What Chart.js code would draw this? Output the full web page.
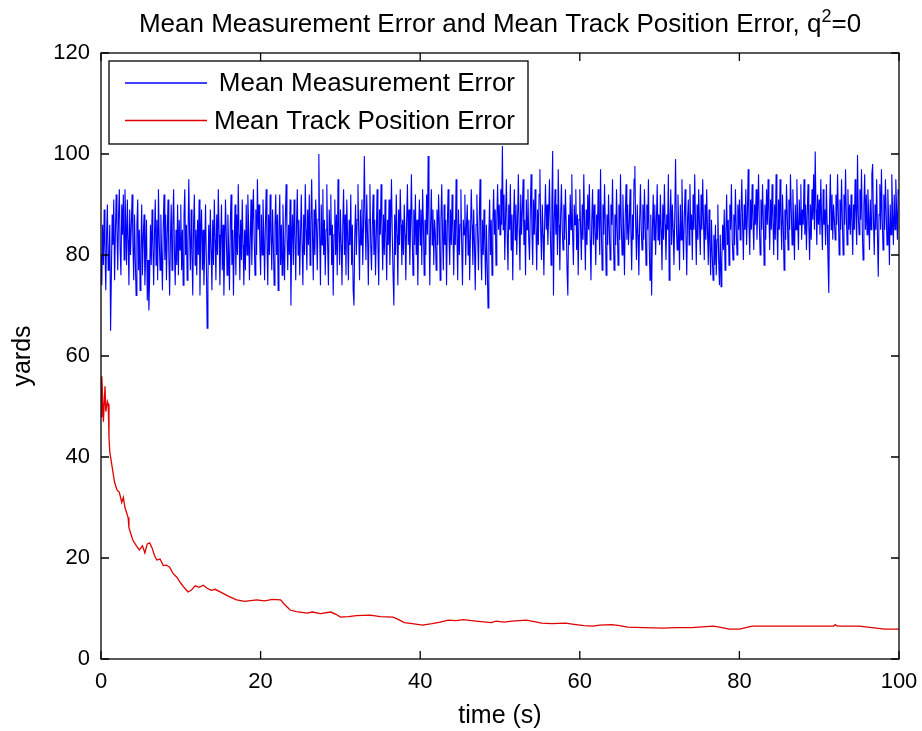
<!DOCTYPE html>
<html><head><meta charset="utf-8">
<script src="https://cdn.jsdelivr.net/npm/chart.js@4.4.1/dist/chart.umd.min.js"></script>
<style>html,body{margin:0;padding:0;background:#fff;}#wrap{width:922px;height:731px;}</style>
</head><body><div id="wrap"><canvas id="c" width="922" height="731"></canvas></div>
<script>
const titleMain = "Mean Measurement Error and Mean Track Position Error, q";
const titleSup = "2";
const titleTail = "=0";
const xLabel = "time (s)";
const yLabel = "yards";
const seriesNames = ["Mean Measurement Error", "Mean Track Position Error"];
const seriesColors = ["#0000ff", "#e00000"];
const xTicks = [0, 20, 40, 60, 80, 100];
const yTicks = [0, 20, 40, 60, 80, 100, 120];
const blueStep = 0.1;
const measurementError = [
80,74,86,78,89,81,73,84,90,77,79,86,65,76,88,82,91,75,84,92,
85,77,88,93,81,76,90,84,92,79,93,87,78,91,83,74,89,80,86,92,
82,75,88,79,72,86,91,77,85,73,81,90,76,84,88,74,80,87,71,79,
69,76,86,78,89,82,74,84,91,78,87,75,93,83,77,88,80,73,86,92,
79,88,75,84,91,80,72,83,90,77,86,93,81,74,85,78,90,76,87,81,
90,77,85,74,88,93,80,86,75,83,95,84,77,89,80,72,86,92,78,85,
76,87,80,91,72,84,89,77,85,74,81,90,79,65.5,75,86,78,89,81,73,
87,78,91,83,75,88,80,93,84,74,83,90,77,86,72,81,91,84,76,88,
81,73,86,92,78,85,72,83,90,76,88,80,94,84,75,87,79,91,82,74,
85,77,90,80,92,86,75,83,91,78,87,93,83,76,89,80,95,85,90,82,
76,88,80,91,84,75,86,93,82,74,88,80,92,84,77,89,82,74,86,92,
80,88,73,85,92,78,86,76,90,82,75,87,94,84,77,86,80,91,70,83,
88,78,91,84,75,86,93,80,87,76,84,92,82,74,88,80,94,85,77,89,
82,92,78,86,95,84,75,89,80,91,86,77,87,100,84,74,90,82,93,80,
87,76,85,94,82,74,89,84,92,78,86,72,84,91,80,88,76,95,85,78,
89,82,74,86,93,80,88,76,91,84,75,87,82,92,78,86,73,70,84,90,
80,87,94,84,75,89,82,91,78,86,99.6,87,79,92,84,74,87,94,82,77,
86,92,80,87,76,84,93,82,74,89,84,94,86,77,88,80,91,84,75,87,
82,91,78,86,95,84,76,70,88,80,92,84,74,89,82,93,86,78,87,80,
90,84,75,87,94,82,89,78,86,96,84,76,89,82,92,80,87,74,85,91,
82,89,78,93,86,76,87,80,92,84,99.6,87,74,86,93,82,89,78,87,84,
77,89,82,92,86,75,87,94,84,77,90,82,87,74,86,93,84,78,89,82,
92,85,76,87,82,95,84,75,89,80,86,93,82,74,87,84,92,78,86,90,
80,87,75,84,93,86,78,89,82,73,86,92,84,77,87,95,82,75,87,80,
89,82,74,86,78,69.5,84,91,80,87,76,86,93,84,89,78,87,94,85,90,
84,93,86,101.6,85,92,79,88,95,84,77,90,85,94,81,88,75,87,93,83,
90,80,87,96,85,77,92,84,89,95,82,87,76,91,85,93,83,79,89,96,
85,78,91,84,93,86,77,89,82,92,97,85,79,90,84,76,87,94,85,90,
82,88,95,85,78,90,100.6,72,87,93,84,90,80,97,86,77,88,94,85,81,
90,83,93,86,77,72,88,82,92,85,96,84,78,90,86,93,81,88,76,87,
93,85,79,90,83,96,86,77,89,82,92,85,94,83,75,87,93,82,90,85,
78,88,83,93,86,80,97,85,77,90,84,94,86,76,88,82,92,85,79,90,
86,95,84,77,88,82,93,85,78,90,83,96,86,80,92,85,76,88,94,83,
90,82,86,93,85,77,88,83,95,97.6,86,79,90,84,76,87,94,85,81,90,
83,93,86,78,90,85,95,82,75,88,72,85,92,83,90,80,87,94,83,88,
82,92,85,77,90,83,94,86,79,88,85,96,75,87,93,82,90,85,78,88,
99,86,81,92,85,77,90,83,95,86,79,88,93,84,76,87,91,82,94,85,
88,79,92,85,96,86,78,90,83,93,86,80,92,85,95,87,79,90,83,93,
85,78,89,82,76,87,80,75,84,78,86,76,83,90,79,74,84,73.7,79,86,
81,89,77,84,92,82,87,78,90,85,94,83,79,88,82,93,86,80,90,85,
91,83,88,95,86,79,90,85,93,82,88,97,86,80,91,85,94,87,81,90,
86,93,83,89,96,86,80,91,85,94,87,78,90,83,93,86,95,88,81,91,
85,94,87,80,90,83,96,86,79,91,85,95,87,81,92,86,77,89,83,94,
88,81,91,85,96,89,82,93,86,79,90,85,95,87,81,91,86,94,83,89,
86,95,84,90,81,88,94,86,79,90,83,93,87,96,85,100.5,89,82,92,86,
91,84,95,87,81,93,86,89,82,94,86,79,72.5,89,96,85,92,83,90,87,
83,92,86,96,88,80,91,85,95,87,80,92,86,97,88,82,93,85,90,84,
92,87,80,90,85,95,88,82,99.8,88,84,93,87,97,85,79,90,96,85,92,
84,93,88,81,91,85,96,98,87,80,90,85,95,84,75.7,88,94,85,97,87,
81,92,85,95,88,82,93,87,78,90,84,96,88,82,92,85,95,89,83,93,
92
];
const trackTime = [0,0.1,0.2,0.3,0.5,0.6,0.8,0.9,1.0,1.1,1.4,1.7,2.0,2.3,2.6,2.8,3.0,3.2,3.4,3.5,3.7,4.0,4.4,4.8,5.2,5.5,5.8,6.1,6.4,6.7,7.0,7.4,7.8,8.2,8.6,9.0,9.5,10.0,10.5,10.9,11.3,11.8,12.3,12.8,13.3,13.8,14.3,15.3,16.0,17.0,18.0,19.5,20.5,21.5,22.5,23.0,23.7,24.5,25.8,26.5,27.5,28.8,29.5,30,31,32,33.7,35,36.6,37.3,38,39,40.3,41.5,42.5,43.5,44.5,45.4,47,48.9,49.5,50.5,51.5,53.3,54.3,55.2,56.5,58.2,59.5,60.5,61.6,62.5,64,65,66,68,70.4,72,74,76.7,77.5,78.7,80,81.6,85,88,91.8,92,92.3,95,98.2,100];
const trackError = [48,56,52,47,54,49,51,50.5,44,41,38,35,33.5,33,31,32,30,29,28,26,25,23.5,22.5,21.6,22.4,21,22.8,23,22,20.5,19.6,19.8,18.5,18.6,18.2,17,16.2,15,14,13.3,13.6,14.5,14.2,14.6,14,13.6,13.8,13,12.4,11.7,11.4,11.7,11.5,11.8,11.7,10.8,9.7,9.4,9.1,9.3,9.0,9.3,8.8,8.3,8.4,8.6,8.7,8.4,8.3,7.8,7.2,7.0,6.7,7.0,7.3,7.7,7.6,7.8,7.5,7.2,7.5,7.3,7.5,7.7,7.4,7.1,7.0,7.1,6.8,6.6,6.5,6.7,6.8,6.6,6.3,6.2,6.1,6.2,6.2,6.5,6.3,5.9,5.9,6.5,6.5,6.5,6.5,6.8,6.5,6.5,5.9,5.9];

const FONT = "'Liberation Sans', Arial, Helvetica, sans-serif";

const decor = {
  id: 'decor',
  afterDatasetsDraw(chart) {
    const ctx = chart.ctx;
    const a = chart.chartArea;
    const xs = chart.scales.x, ys = chart.scales.y;
    ctx.save();
    ctx.strokeStyle = '#000';
    ctx.lineWidth = 1.3;
    ctx.strokeRect(a.left, a.top, a.right - a.left, a.bottom - a.top);
    const tl = 8;
    ctx.beginPath();
    xTicks.forEach(v => {
      const px = xs.getPixelForValue(v);
      ctx.moveTo(px, a.bottom); ctx.lineTo(px, a.bottom - tl);
      ctx.moveTo(px, a.top); ctx.lineTo(px, a.top + tl);
    });
    yTicks.forEach(v => {
      const py = ys.getPixelForValue(v);
      ctx.moveTo(a.left, py); ctx.lineTo(a.left + tl, py);
      ctx.moveTo(a.right, py); ctx.lineTo(a.right - tl, py);
    });
    ctx.stroke();
    // legend
    const bx = a.left + 8, by = a.top + 8, bw = 419, bh = 83;
    ctx.fillStyle = '#fff';
    ctx.fillRect(bx, by, bw, bh);
    ctx.strokeStyle = '#000';
    ctx.lineWidth = 1.3;
    ctx.strokeRect(bx, by, bw, bh);
    ctx.font = '26px ' + FONT;
    ctx.textAlign = 'right';
    ctx.textBaseline = 'middle';
    seriesNames.forEach((name, i) => {
      const cy = by + 22 + i * 37.5;
      ctx.strokeStyle = chart.data.datasets[i].borderColor;
      ctx.lineWidth = 1.3;
      ctx.beginPath();
      ctx.moveTo(bx + 16, cy); ctx.lineTo(bx + 98, cy);
      ctx.stroke();
      ctx.fillStyle = '#000';
      ctx.fillText(name, bx + 406, cy + 1);
    });
    // title with superscript
    const cx = (a.left + a.right) / 2;
    const baseY = 32;
    ctx.textAlign = 'left';
    ctx.textBaseline = 'alphabetic';
    ctx.font = '26px ' + FONT;
    const w1 = ctx.measureText(titleMain).width;
    const w3 = ctx.measureText(titleTail).width;
    ctx.font = '18px ' + FONT;
    const w2 = ctx.measureText(titleSup).width;
    const x0 = cx - (w1 + w2 + w3) / 2;
    ctx.fillStyle = '#000';
    ctx.font = '26px ' + FONT;
    ctx.fillText(titleMain, x0, baseY);
    ctx.font = '18px ' + FONT;
    ctx.fillText(titleSup, x0 + w1, baseY - 10);
    ctx.font = '26px ' + FONT;
    ctx.fillText(titleTail, x0 + w1 + w2, baseY);
    ctx.restore();
  }
};

new Chart(document.getElementById('c'), {
  type: 'line',
  data: {
    datasets: [
      { label: seriesNames[0], data: measurementError.map((v, i) => ({ x: Math.round(i * blueStep * 10) / 10, y: v })),
        borderColor: seriesColors[0], borderWidth: 1.1, pointRadius: 0, tension: 0, fill: false },
      { label: seriesNames[1], data: trackTime.map((t, i) => ({ x: t, y: trackError[i] })),
        borderColor: seriesColors[1], borderWidth: 1.3, pointRadius: 0, tension: 0, fill: false }
    ]
  },
  options: {
    responsive: false,
    animation: false,
    devicePixelRatio: 1,
    layout: { padding: { top: 53, right: 23, left: 0, bottom: 0 } },
    plugins: { legend: { display: false }, title: { display: false }, tooltip: { enabled: false } },
    scales: {
      x: {
        type: 'linear', min: 0, max: 100,
        afterBuildTicks: s => { s.ticks = xTicks.map(v => ({ value: v })); },
        afterFit: s => { s.height = 72; s.paddingLeft = 0; s.paddingRight = 0; },
        grid: { display: false, drawTicks: false },
        border: { display: false },
        ticks: { color: '#000', font: { family: FONT, size: 22 }, padding: 10, maxRotation: 0 },
        title: { display: true, text: xLabel, color: '#000', font: { family: FONT, size: 25 }, padding: { top: 0, bottom: 0 } }
      },
      y: {
        type: 'linear', min: 0, max: 120,
        afterBuildTicks: s => { s.ticks = yTicks.map(v => ({ value: v })); },
        afterFit: s => { s.width = 101; s.paddingTop = 0; s.paddingBottom = 0; },
        grid: { display: false, drawTicks: false },
        border: { display: false },
        ticks: { color: '#000', font: { family: FONT, size: 22 }, padding: 11 },
        title: { display: true, text: yLabel, color: '#000', font: { family: FONT, size: 25 }, padding: { top: 8, bottom: 0 } }
      }
    }
  },
  plugins: [decor]
});
</script></body></html>
